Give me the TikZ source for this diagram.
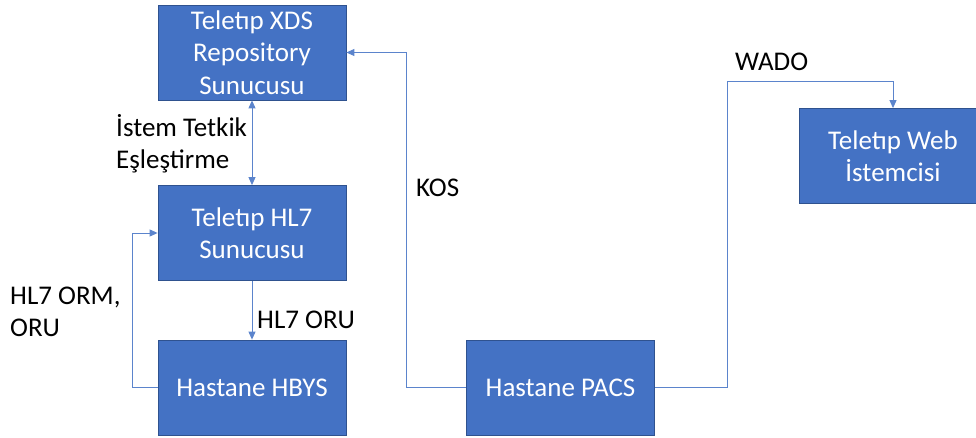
\documentclass[tikz,border=0pt]{standalone}
\usepackage{fontspec}
\setmainfont{Carlito}
\usetikzlibrary{arrows.meta}
\definecolor{boxblue}{HTML}{4472C4}
\definecolor{boxedge}{HTML}{2F528F}
\definecolor{linkblue}{HTML}{5B84CC}
\tikzset{
  sysbox/.style={draw=boxedge, line width=0.8pt, fill=boxblue, text=white,
    minimum width=188pt, minimum height=95pt, inner sep=2pt, align=center,
    font=\fontsize{27}{32.5}\selectfont},
  link/.style={draw=linkblue, line width=0.9pt, -{Triangle[length=8pt,width=7pt]}},
  blink/.style={draw=linkblue, line width=0.9pt, {Triangle[length=8pt,width=7pt]}-{Triangle[length=8pt,width=7pt]}},
  lbl/.style={text=black, align=left, inner sep=0pt, font=\fontsize{27}{32}\selectfont}
}
\begin{document}
\begin{tikzpicture}[x=1pt,y=1pt]
\useasboundingbox (0,0) rectangle (976,437);
\begin{scope}
\clip (0,0) rectangle (976,437);
\node[sysbox] (xds) at (252,384.5) {Teletıp XDS\\Repository\\Sunucusu};
\node[sysbox] (hl7) at (252,204) {Teletıp HL7\\Sunucusu};
\node[sysbox] (hbys) at (252,49.5) {Hastane HBYS};
\node[sysbox] (pacs) at (560.5,49.5) {Hastane PACS};
\node[sysbox] (web) at (893,281) {Teletıp Web\\İstemcisi};
\end{scope}

\draw[blink] (xds) -- (hl7);
\draw[link] (hl7) -- (hbys);
\draw[link] (hbys.west) -- ++(-25,0) |- (hl7.west);
\draw[link] (pacs.west) -- ++(-60,0) |- (xds.east);
\draw[link] (pacs.east) -- ++(73,0) |- ([yshift=27pt]web.north) -- (web.north);

\node[lbl, anchor=west] (l1) at (116,293) {İstem Tetkik\\Eşleştirme};
\node[lbl, anchor=west] (l2) at (416,249) {KOS};
\node[lbl, anchor=west] (l3) at (735,375) {WADO};
\node[lbl, anchor=west] (l4) at (257,117) {HL7 ORU};
\node[lbl, anchor=west] (l5) at (10,125) {HL7 ORM,\\ORU};
\end{tikzpicture}
\end{document}
